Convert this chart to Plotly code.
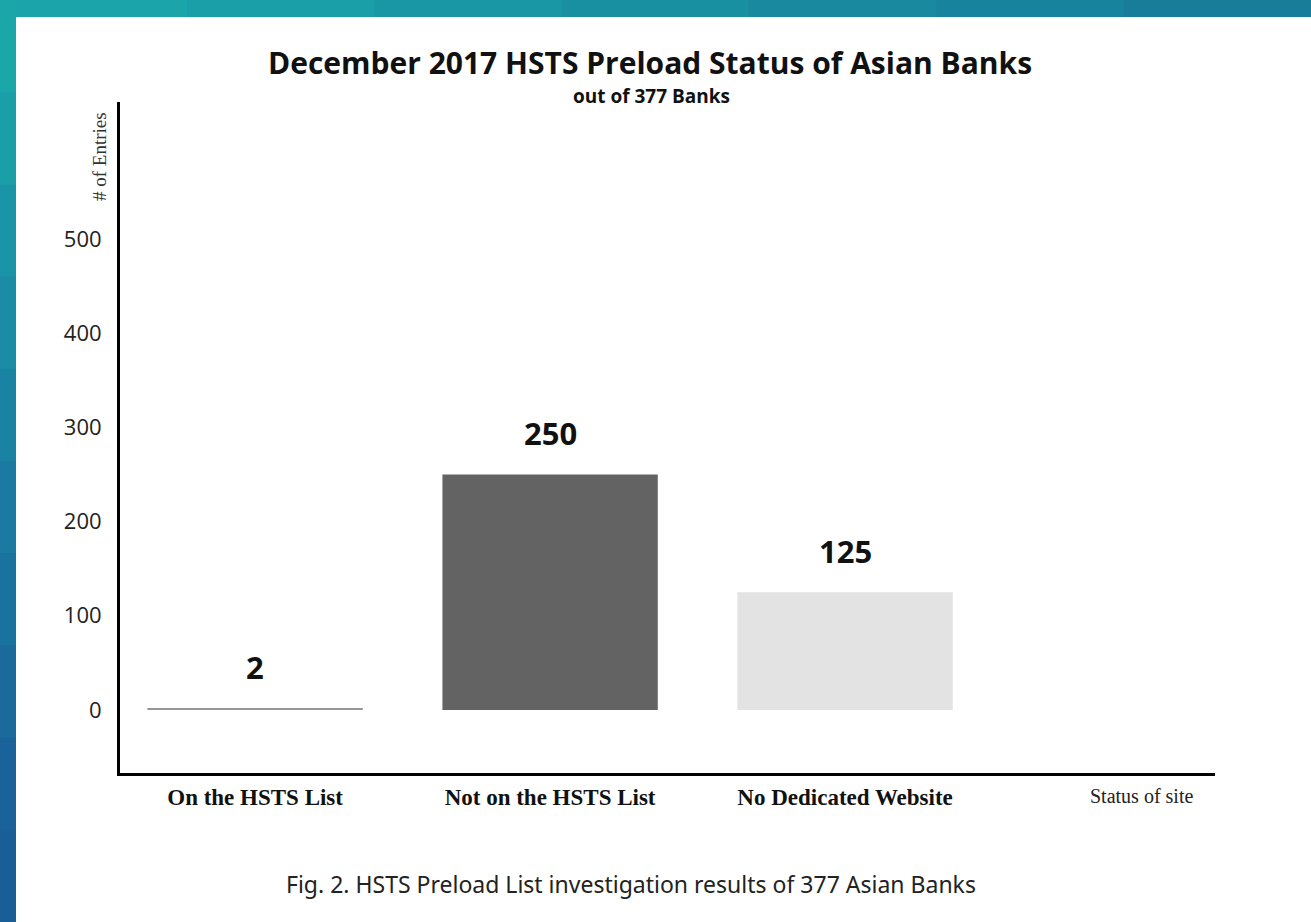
import plotly.graph_objects as go

# ---- data ----
categories = ["On the HSTS List", "Not on the HSTS List", "No Dedicated Website"]
entries = [2, 250, 125]
bar_colors = ["#959595", "#636363", "#e3e3e3"]
y_ticks = [0, 100, 200, 300, 400, 500]

title = "December 2017 HSTS Preload Status of Asian Banks"
subtitle = "out of 377 Banks"
caption = "Fig. 2. HSTS Preload List investigation results of 377 Asian Banks"

W, H = 1311, 922
ML, MR, MT, MB = 120, 96, 102, 149
PW, PH = W - ML - MR, H - MT - MB

def px_x(p):  # pixel -> paper x
    return (p - ML) / PW

def px_y(p):  # pixel (from top) -> paper y
    return (H - MB - p) / PH

fig = go.Figure()
fig.add_trace(go.Bar(
    x=list(range(len(categories))),
    y=entries,
    marker=dict(color=bar_colors, line=dict(width=0)),
    width=0.73,
    hoverinfo="x+y",
))

annotations = []
for i, v in enumerate(entries):
    annotations.append(dict(
        x=i, y=v, xref="x", yref="y", text=f"<b>{v}</b>",
        showarrow=False, yanchor="bottom", yshift=18,
        font=dict(family="Open Sans, Noto Sans, sans-serif", size=31, color="#111"),
    ))

annotations += [
    dict(x=px_x(650), y=px_y(62), xref="paper", yref="paper", text=f"<b>{title}</b>",
         showarrow=False, xanchor="center", yanchor="middle",
         font=dict(family="Open Sans, Noto Sans, sans-serif", size=30, color="#111")),
    dict(x=px_x(651), y=px_y(96), xref="paper", yref="paper", text=f"<b>{subtitle}</b>",
         showarrow=False, xanchor="center", yanchor="middle",
         font=dict(family="Open Sans, Noto Sans, sans-serif", size=19, color="#111")),
    dict(x=px_x(99), y=px_y(157), xref="paper", yref="paper", text="# of Entries",
         showarrow=False, textangle=-90, xanchor="center", yanchor="middle",
         font=dict(family="Liberation Serif, serif", size=19, color="#333")),
    dict(x=px_x(1141), y=px_y(796), xref="paper", yref="paper", text="Status of site",
         showarrow=False, xanchor="center", yanchor="middle",
         font=dict(family="Liberation Serif, serif", size=20, color="#222")),
    dict(x=px_x(631), y=px_y(884), xref="paper", yref="paper", text=caption,
         showarrow=False, xanchor="center", yanchor="middle",
         font=dict(family="Noto Sans, Open Sans, sans-serif", size=23, color="#222")),
]

# decorative slide border (teal/blue gradient approximated in steps)
shapes = []
top_cols = ["#1ba4a9", "#1a9ea7", "#1997a5", "#1890a2", "#18899f", "#17839c", "#177d99"]
n = len(top_cols)
for k, c in enumerate(top_cols):
    x0 = k * W / n
    x1 = (k + 1) * W / n
    shapes.append(dict(type="rect", xref="paper", yref="paper",
                       x0=px_x(x0), x1=px_x(x1 + 1), y0=px_y(17), y1=px_y(0),
                       fillcolor=c, line=dict(width=0), layer="below"))
left_cols = ["#1ba6a8", "#1a9ea8", "#1a95a7", "#1a8ca5", "#1a83a3", "#1a7aa1",
             "#1a729f", "#1a6a9c", "#1a639a", "#1a5e98"]
m = len(left_cols)
for k, c in enumerate(left_cols):
    y0 = k * H / m
    y1 = (k + 1) * H / m
    shapes.append(dict(type="rect", xref="paper", yref="paper",
                       x0=px_x(0), x1=px_x(16), y0=px_y(y1 + 1), y1=px_y(y0),
                       fillcolor=c, line=dict(width=0), layer="below"))

fig.update_layout(
    width=W, height=H,
    margin=dict(l=ML, r=MR, t=MT, b=MB, pad=0),
    paper_bgcolor="white", plot_bgcolor="white",
    showlegend=False,
    bargap=0.27,
    annotations=annotations,
    shapes=shapes,
    xaxis=dict(
        range=[-0.458, 3.254],
        tickmode="array", tickvals=list(range(len(categories))),
        ticktext=[f"<b>{c}</b>" for c in categories],
        tickfont=dict(family="Liberation Serif, serif", size=23, color="#111"),
        showline=True, linecolor="black", linewidth=3,
        showgrid=False, zeroline=False, ticks="", ticklabelstandoff=1,
        fixedrange=True,
    ),
    yaxis=dict(
        range=[-66.9, 645.4],
        tickmode="array", tickvals=y_ticks,
        tickfont=dict(family="Open Sans, Noto Sans, sans-serif", size=22, color="#222"),
        showline=True, linecolor="black", linewidth=3,
        showgrid=False, zeroline=False, ticks="", ticklabelstandoff=11,
        fixedrange=True,
    ),
)

fig.write_html("out.html")
